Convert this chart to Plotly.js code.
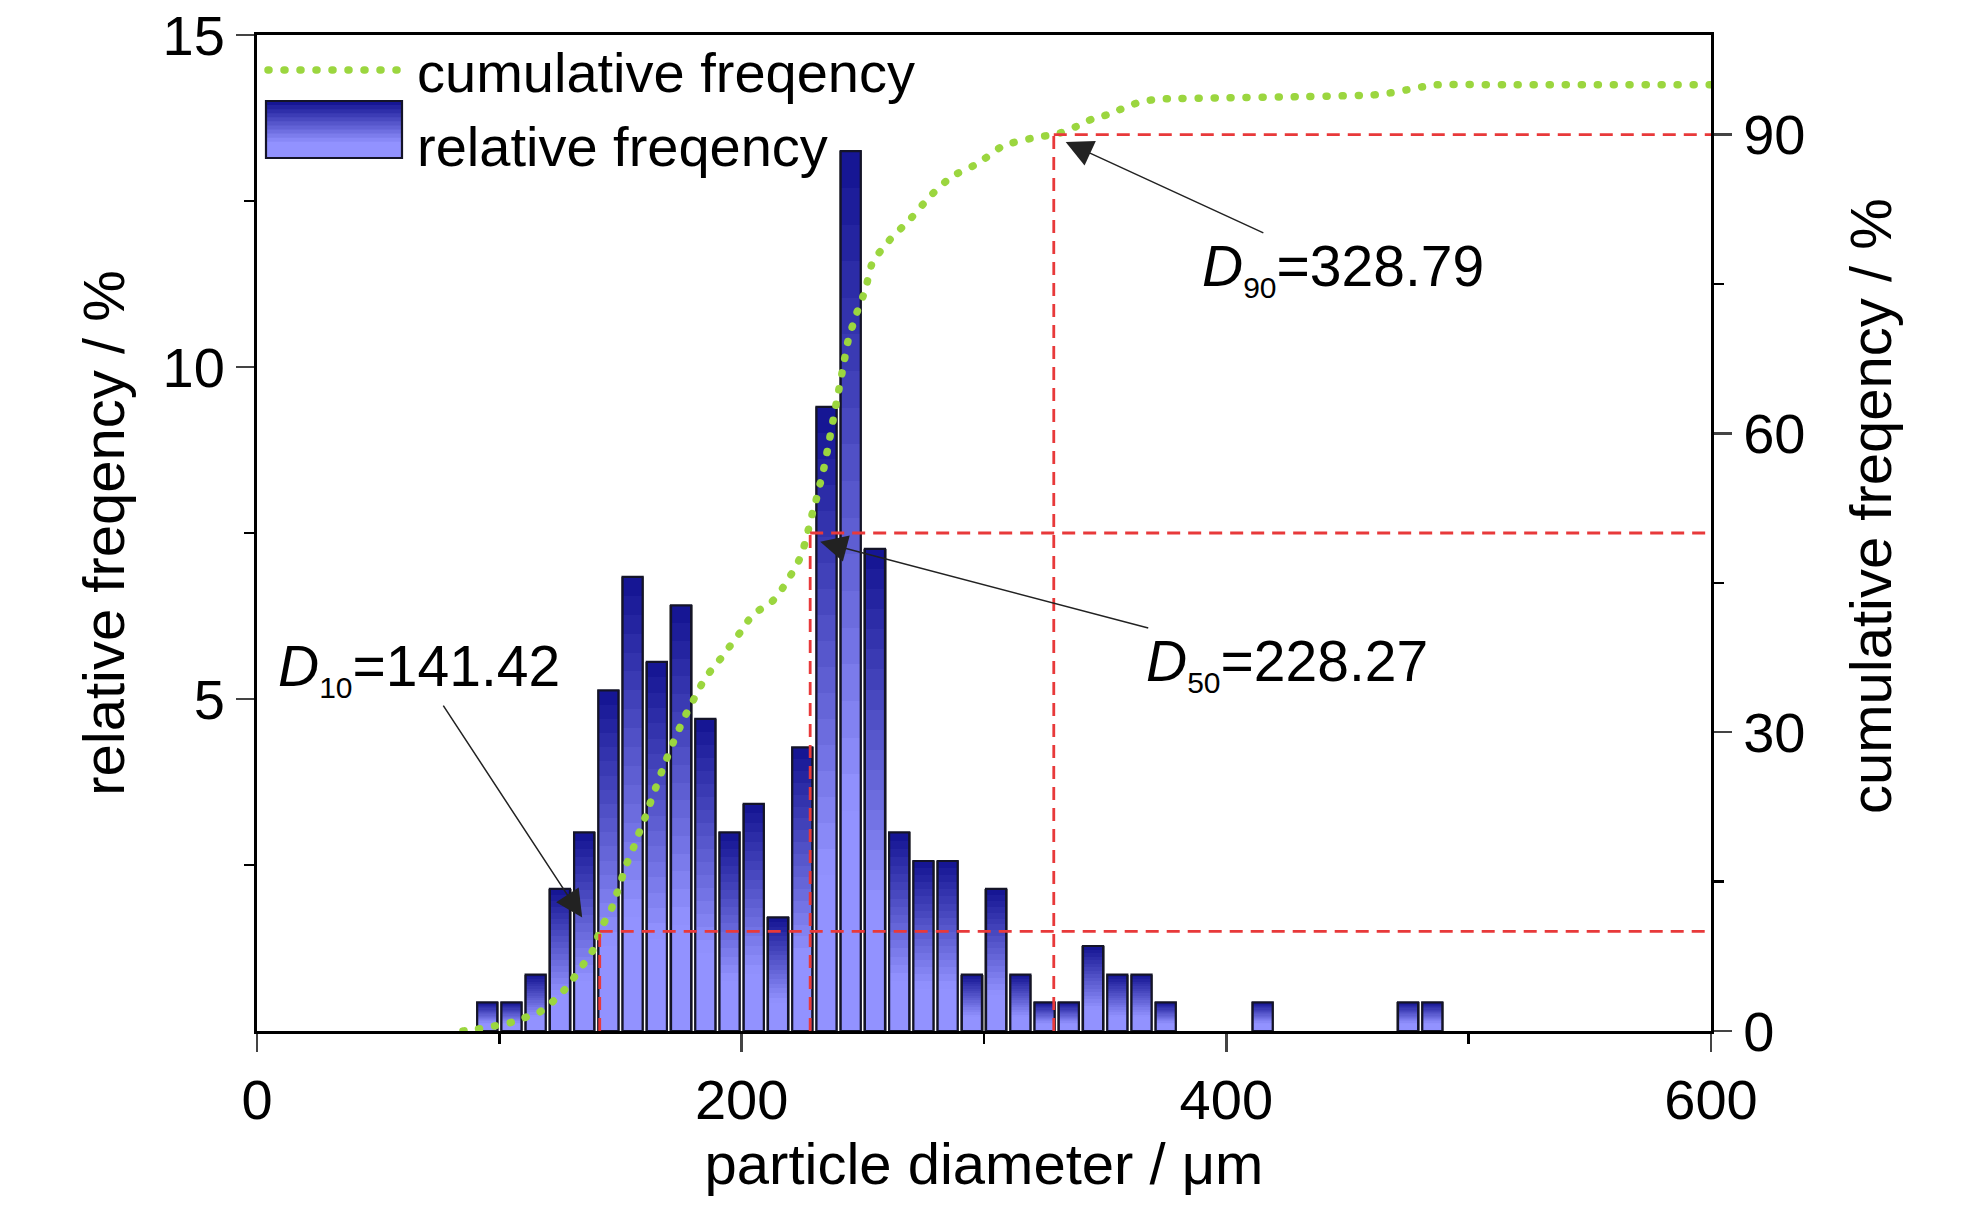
<!DOCTYPE html>
<html>
<head>
<meta charset="utf-8">
<script src="https://cdn.plot.ly/plotly-3.0.1.min.js"></script>
<style>
  html, body { margin: 0; padding: 0; background: #fff; }
  #chart { width: 1984px; height: 1205px; }
</style>
</head>
<body>
<div id="chart"></div>
<script>
// bins of 10 um, value = relative frequency in %
var binCenters = [95, 105, 115, 125, 135, 145, 155, 165, 175, 185, 195, 205, 215, 225, 235, 245, 255, 265, 275, 285, 295, 305, 315, 325, 335, 345, 355, 365, 375, 415, 475, 485];
var relFreq = [0.43, 0.43, 0.85, 2.14, 2.99, 5.13, 6.84, 5.56, 6.41, 4.70, 2.99, 3.42, 1.71, 4.27, 9.40, 13.25, 7.26, 2.99, 2.56, 2.56, 0.85, 2.14, 0.85, 0.43, 0.43, 1.28, 0.85, 0.85, 0.43, 0.43, 0.43, 0.43];

// cumulative curve
var cumX = [85, 91, 98, 105.5, 110, 116, 120, 124, 129, 132, 135, 138.6, 141.4, 143, 146, 148, 150, 151.5, 153.5, 155.5, 157.5, 159.5, 162, 164.5, 167.7, 171.8, 176.6, 179.4, 182.1, 184.9, 188.6, 192.4, 195.9, 199.3, 202.7, 206.9, 212.1, 216.2, 219.3, 222.3, 225, 226.4, 227.8, 229.2, 230.7, 232, 233.4, 235.7, 237.7, 239.8, 241.9, 244, 247.5, 251, 254, 261, 269.5, 277.7, 286.7, 297.5, 308, 321, 328.8, 333.4, 338, 345, 351, 358, 363.5, 369.7, 376, 400, 430, 461.8, 468, 474.6, 481, 487, 520, 560, 600];
var cumY = [0, 0.2, 0.5, 0.9, 1.3, 1.8, 2.5, 3.4, 4.7, 5.8, 6.8, 8.1, 10, 10.8, 12.1, 13.5, 14.8, 16.2, 17.3, 18.5, 19.8, 21, 22.7, 24.4, 26.5, 29.0, 31.6, 32.9, 34.2, 35.4, 36.6, 37.7, 38.9, 40.0, 41.2, 42.2, 43.0, 44.2, 45.4, 46.6, 48.0, 49.3, 50.6, 52.0, 53.3, 54.6, 55.9, 58.7, 61.3, 64.0, 66.7, 69.4, 72.1, 74.4, 77.2, 79.4, 81.5, 83.8, 85.8, 87.1, 88.9, 89.7, 90, 90.3, 90.8, 91.6, 92.0, 92.7, 93.2, 93.5, 93.6, 93.7, 93.8, 94.0, 94.2, 94.5, 94.8, 95.0, 95.0, 95.0, 95.0];

var dNames = ['10', '50', '90'];
var dValues = [141.42, 228.27, 328.79];
var dPct = [10, 50, 90];

var xTicks = [0, 200, 400, 600];
var yTicks = [5, 10, 15];
var y2Ticks = [0, 30, 60, 90];

var FONT = '"Liberation Sans Narrow", "Liberation Sans", Arial, sans-serif';
var FS = 56;
var GREEN = '#9bd63f';
var RED = '#e8393a';
var ML = 257, MR = 273, MT = 35, MB = 174;
var W = 1984, H = 1205;
var PW = W - ML - MR, PH = H - MT - MB;

function px(x) { return (x - ML) / PW; }
function py(y) { return (H - MB - y) / PH; }

// vertical gradient: dark at the top of each bar, light at the bottom
var dark = [22, 22, 148], light = [146, 146, 255];
function gradColor(t) {
  var s = Math.min(1, t / 0.75);
  var c = dark.map(function (d, i) { return Math.round(d + (light[i] - d) * s); });
  return 'rgb(' + c.join(',') + ')';
}

var data = [];
data.push({
  type: 'bar', x: binCenters, y: relFreq, width: 9.6,
  marker: { color: '#8c8c8c', line: { width: 0 } },
  opacity: 1, showlegend: false, hoverinfo: 'skip'
});
var N = 24;
for (let k = 0; k < N; k++) {
  data.push({
    type: 'bar', x: binCenters,
    y: relFreq.map(function (v) { return v * (1 - k / N); }),
    width: 8.3,
    marker: { color: gradColor(k / (N - 1)), line: { width: 0 } },
    opacity: 1, showlegend: false, hoverinfo: 'skip'
  });
}
data.push({
  type: 'bar', x: binCenters, y: relFreq, width: 8.3,
  marker: { color: 'rgba(0,0,0,0)', line: { color: '#141428', width: 2.2 } },
  opacity: 1, showlegend: false
});
data.push({
  type: 'scatter', mode: 'lines', x: cumX, y: cumY, yaxis: 'y2',
  line: { color: GREEN, width: 7.5, dash: '1px,15px', shape: 'spline', smoothing: 0.5 },
  showlegend: false
});

var shapes = [];
for (let i = 0; i < dValues.length; i++) {
  shapes.push({
    type: 'line', xref: 'x', yref: 'y2', layer: 'above',
    x0: dValues[i], x1: dValues[i], y0: 0, y1: dPct[i],
    line: { color: RED, width: 2.8, dash: '13px,8px' }
  });
  shapes.push({
    type: 'line', xref: 'x', yref: 'y2', layer: 'above',
    x0: dValues[i], x1: 600, y0: dPct[i], y1: dPct[i],
    line: { color: RED, width: 2.8, dash: '13px,8px' }
  });
}

// legend drawn by hand so the swatches keep their size
shapes.push({
  type: 'line', xref: 'paper', yref: 'paper', layer: 'above',
  x0: px(268), x1: px(402), y0: py(70), y1: py(70),
  line: { color: GREEN, width: 7.5, dash: '1px,15px' }
});
var S = 14;
for (let k = 0; k < S; k++) {
  var yTop = 101 + (158 - 101) * k / S, yBot = 101 + (158 - 101) * (k + 1) / S + 1;
  shapes.push({
    type: 'rect', xref: 'paper', yref: 'paper', layer: 'above',
    x0: px(266), x1: px(402), y0: py(Math.min(yBot, 158)), y1: py(yTop),
    fillcolor: gradColor(k / (S - 1)), line: { width: 0 }
  });
}
shapes.push({
  type: 'rect', xref: 'paper', yref: 'paper', layer: 'above',
  x0: px(266), x1: px(402), y0: py(158), y1: py(101),
  line: { color: '#141428', width: 2.2 }
});

var annotations = [
  { xref: 'paper', yref: 'paper', x: px(415), y: py(72), xanchor: 'left', yanchor: 'middle',
    text: 'cumulative freqency', showarrow: false, font: { size: FS } },
  { xref: 'paper', yref: 'paper', x: px(415), y: py(147), xanchor: 'left', yanchor: 'middle',
    text: 'relative freqency', showarrow: false, font: { size: FS } },
  { xref: 'paper', yref: 'paper', x: px(1870), y: py(506), xanchor: 'center', yanchor: 'middle',
    textangle: -90, text: 'cumulative freqency / %', showarrow: false, font: { size: FS + 2 } }
];
// D labels: tail (text) and arrow head in data units
var labelPos = [[67, 5.45], [425, 5.52], [448, 11.47]];
var headPos = [[134.2, 1.71], [232.4, 7.37], [333.7, 13.39]];
for (let i = 0; i < dValues.length; i++) {
  annotations.push({
    xref: 'x', yref: 'y', axref: 'x', ayref: 'y',
    x: headPos[i][0], y: headPos[i][1], ax: labelPos[i][0], ay: labelPos[i][1],
    text: '<i>D</i><sub><span style="font-size:30px">' + dNames[i] + '</span></sub>=' + dValues[i].toFixed(2),
    font: { size: FS + 1 },
    showarrow: true, arrowhead: 2, arrowsize: 3.6, arrowwidth: 1.5, arrowcolor: '#222',
    standoff: 0, startstandoff: 0
  });
}

var layout = {
  width: W, height: H,
  margin: { l: ML, r: MR, t: MT, b: MB },
  paper_bgcolor: '#fff', plot_bgcolor: '#fff',
  font: { family: FONT, size: FS, color: '#000' },
  barmode: 'overlay', bargap: 0,
  showlegend: false,
  xaxis: {
    range: [0, 600], tickvals: xTicks, ticks: 'outside', ticklen: 18, tickwidth: 2.5,
    showline: true, linewidth: 3, linecolor: '#000', mirror: true,
    showgrid: false, zeroline: false,
    minor: { tickvals: [100, 300, 500], ticks: 'outside', ticklen: 10, tickwidth: 2.5, tickcolor: '#000' },
    title: { text: 'particle diameter / μm', standoff: 12, font: { size: FS + 2 } }
  },
  yaxis: {
    range: [0, 15], tickvals: yTicks, ticks: 'outside', ticklen: 18, tickwidth: 2.5,
    showline: true, linewidth: 3, linecolor: '#000',
    showgrid: false, zeroline: false,
    minor: { tickvals: [2.5, 7.5, 12.5], ticks: 'outside', ticklen: 10, tickwidth: 2.5, tickcolor: '#000' },
    title: { text: 'relative freqency / %', standoff: 20, font: { size: FS + 2 } }
  },
  yaxis2: {
    overlaying: 'y', side: 'right', range: [0, 100], tickvals: y2Ticks,
    ticks: 'outside', ticklen: 18, tickwidth: 2.5,
    showline: true, linewidth: 3, linecolor: '#000',
    showgrid: false, zeroline: false,
    minor: { tickvals: [15, 45, 75], ticks: 'outside', ticklen: 10, tickwidth: 2.5, tickcolor: '#000' }
  },
  shapes: shapes,
  annotations: annotations
};

Plotly.newPlot('chart', data, layout, { staticPlot: true }).then(function () {
  // round caps turn the short dashes into dots
  document.querySelectorAll('path').forEach(function (p) {
    var s = p.style.stroke || p.getAttribute('stroke') || '';
    if (s.replace(/\s/g, '') === 'rgb(155,214,63)' || s.toLowerCase() === GREEN) {
      p.style.strokeLinecap = 'round';
    }
  });
});
</script>
</body>
</html>
